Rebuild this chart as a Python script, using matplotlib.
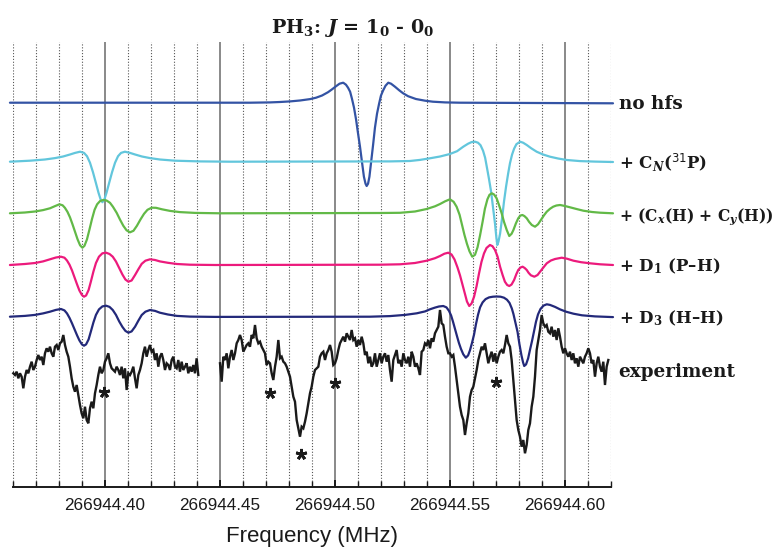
import numpy as np
import matplotlib
matplotlib.use("Agg")
import matplotlib.pyplot as plt
from matplotlib.ticker import MultipleLocator, FormatStrFormatter

plt.rcParams["mathtext.fontset"] = "custom"
plt.rcParams["mathtext.rm"] = "DejaVu Serif:bold"
plt.rcParams["mathtext.it"] = "DejaVu Serif:italic:bold"
plt.rcParams["mathtext.bf"] = "DejaVu Serif:bold"
plt.rcParams["mathtext.sf"] = "DejaVu Sans"

# Frequency axis (MHz); trace frequencies are offsets in kHz from REF_MHZ
REF_MHZ = 266944.40
F_MIN, F_MAX = 266944.36, 266944.62

# Simulated spectra (intensity in arbitrary units, relative to each trace's baseline)
nohfs_khz = [-41.2, 63.2, 71.9, 76.2, 80.6, 84.9, 89.3, 91.9, 94.5, 97.1, 98.8, 100.6,
             102.1, 103.7, 104.9, 105.8, 106.7, 107.5, 108.4, 109.3, 110.1, 111.0, 111.9,
             112.7, 113.4, 113.9, 114.5, 115.1, 115.8, 116.7, 117.5, 118.4, 119.3, 120.1,
             121.0, 122.1, 123.3, 124.5, 126.2, 128.0, 129.7, 131.9, 135.3, 139.3, 142.7,
             148.0, 154.5, 221.0]
nohfs_int = [0, 0, 0.3, 0.7, 1.3, 2.2, 3.6, 5.0, 7.2, 10.5, 13.3, 16.5,
             19.0, 20.0, 18.0, 15.0, 11.0, 4.0, -5.0, -17.0, -30.0, -44.0, -60.0,
             -74.0, -81.0, -83.3, -81.0, -74.0, -60.0, -42.0, -25.0, -11.0, -1.0, 7.0,
             12.0, 17.0, 20.0, 19.0, 16.0, 12.5, 9.5, 6.5, 3.7, 2.0, 1.0,
             0.3, 0, -0.6]

cn_khz = [-41.2, -32.5, -26.0, -21.6, -18.1, -15.1, -12.9, -10.7, -9.0, -7.7, -6.4, -5.1,
          -3.8, -2.7, -1.8, -1.0, -0.1, 0.8, 1.9, 3.2, 4.5, 5.8, 7.1, 8.8, 11.0, 13.2,
          16.2, 19.7, 24.0, 30.6, 41.4, 54.5,
          124.0, 132.7, 137.1, 141.4, 145.8, 150.1, 153.2, 155.9, 158.0, 159.5, 161.0,
          162.3, 163.4, 164.5, 165.4, 166.2, 167.1, 168.0, 168.8, 169.7, 170.3, 170.7,
          171.2, 171.9, 172.8, 173.6, 174.5, 175.4, 176.2, 177.1, 178.0, 179.0, 180.6,
          181.9, 183.5, 185.4, 187.8, 190.6, 193.6, 197.1, 200.9, 206.7, 213.2, 221.0]
cn_int = [0, 1, 2.2, 3.6, 5.2, 7.2, 8.8, 10, 8.8, 5.5, -1, -10.5,
          -21.5, -31, -37.5, -40.5, -37.5, -31, -21.5, -10.5, -1, 5.5, 8.8, 10, 8.8, 7.2,
          5.2, 3.6, 2.2, 1, 0.3, 0,
          0.3, 0.7, 1.8, 3.4, 5.2, 7.7, 10.5, 15, 18, 19.6, 20,
          19, 16.5, 11, 4, -6, -17.5, -30, -45, -62, -76, -83.3,
          -80, -72, -56, -40, -25, -12, -1.6, 7, 13, 17.5, 20,
          19, 16.7, 13.5, 10, 7.2, 5, 3.2, 1.7, 0.6, 0.1, -0.3]

cxy_khz = [-41.2, -34.7, -30.3, -26.8, -23.8, -21.6, -19.7, -18.3, -17.3, -16.2, -15.1,
           -14.0, -12.9, -11.8, -10.7, -9.7, -8.8, -7.7, -6.6, -5.5, -4.4, -3.3, -2.0,
           -0.6, 0.8, 2.3, 3.6, 5.2, 6.7, 8.1, 9.5, 11.0, 12.5, 14.0, 15.6, 17.1, 18.6,
           20.4, 22.3, 24.9, 28.4, 32.7, 39.3, 50.1,
           119.7, 128.4, 134.9, 140.0, 143.6, 145.8, 148.0, 150.1, 151.7, 153.0, 154.3,
           155.3, 156.4, 157.5, 158.6, 159.8, 161.0, 162.1, 163.2, 164.3, 165.3, 166.4,
           167.3, 168.3, 169.3, 170.4, 171.4, 172.6, 173.6, 174.8, 175.9, 176.9, 177.7,
           178.8, 179.8, 180.7, 181.6, 182.5, 183.5, 184.5, 185.7, 187.1, 188.4, 189.7,
           191.0, 192.2, 193.6, 195.0, 196.4, 198.0, 200.1, 202.3, 205.3, 208.1, 211.9,
           215.4, 221.0]
cxy_int = [0, 0.8, 1.8, 3.2, 5, 7.2, 9, 8, 5.5, 1.5, -4,
           -11, -18.5, -26, -32, -34.4, -32.5, -26, -16, -5.5, 3.5, 9, 12.3,
           13.3, 12.8, 10.5, 6.5, 0.5, -6.5, -12.5, -17, -19, -17.5, -12.5, -6, -0.5, 3.5,
           5.6, 5.5, 4, 2.4, 1.2, 0.4, 0,
           0.3, 0.5, 1.8, 4.3, 7, 9.3, 12, 14, 11.5, 6.6, -1.5,
           -11, -21.5, -30.5, -38, -43.4, -41.5, -34, -22, -8.5, 4.5, 14,
           18.5, 20, 18.8, 15, 8.5, 0, -8.5, -16.7, -22.7, -20.5, -16.7,
           -10, -5, -2.3, -1.7, -2.8, -5, -8.5, -11.7, -13.4, -11, -6.5,
           -2, 1.6, 4.5, 6.6, 7.8, 8.3, 7.3, 6, 4.2, 2.6, 1.3,
           0.6, 0]

d1_khz = [-41.2, -34.7, -30.3, -26.8, -23.8, -21.2, -19.0, -17.5, -16.4, -15.3, -14.2,
          -13.1, -12.0, -11.0, -9.9, -9.0, -8.1, -7.0, -6.0, -4.9, -3.8, -2.5, -1.0, 0.6,
          2.1, 3.5, 4.9, 6.3, 7.7, 9.0, 10.3, 11.7, 13.2, 14.7, 16.1, 17.7, 19.7, 21.9,
          24.0, 27.5, 31.4, 37.1, 48.0,
          119.7, 128.4, 134.9, 140.0, 143.6, 145.8, 147.7, 149.4, 150.8, 152.1, 153.4,
          154.5, 155.6, 156.7, 157.5, 158.5, 159.5, 160.6, 161.7, 162.7, 163.8, 164.9,
          166.0, 167.5, 168.6, 169.7, 170.8, 171.9, 173.0, 174.0, 175.0, 175.9, 176.9,
          178.0, 179.0, 179.8, 180.8, 181.7, 182.6, 183.5, 184.3, 185.3, 186.8, 188.2,
          189.3, 190.8, 192.2, 194.0, 195.8, 198.7, 201.0, 203.8, 207.1, 211.0, 215.4,
          221.0]
d1_int = [0, 1, 2, 3.6, 5.7, 7.5, 8.3, 7.3, 4.5, 0.3, -5.5,
          -12.5, -19.5, -25.5, -30, -31.7, -30.5, -25, -16.5, -6.5, 2, 8.3, 11.7, 12.3,
          11, 8.3, 3.5, -3, -9.5, -14.5, -16.7, -15.5, -10, -4, 1.2, 4.3, 5.7, 5,
          3.6, 2.2, 1, 0.3, 0,
          0.3, 0.7, 2, 4.3, 6.8, 9, 11.3, 12.3, 10.5, 5.5, -2.5,
          -10.5, -20, -29.5, -36.5, -41, -38.5, -31.7, -21, -9, 3, 11.5,
          17, 20, 18.8, 15, 8.5, -1.7, -10, -16.7, -20, -21, -19.5,
          -15, -9, -5, -2.5, -1.7, -3, -5, -7.8, -10.3, -11.7, -10,
          -6.7, -2.3, 1.7, 4.5, 6, 7.3, 6.3, 4.3, 2.8, 1.7, 0.7,
          0]

d3_khz = [-41.2, -34.7, -30.3, -26.8, -23.8, -21.2, -19.0, -17.5, -16.4, -15.3, -14.2,
          -13.1, -12.0, -11.0, -9.9, -9.0, -8.1, -7.0, -6.0, -4.9, -3.8, -2.5, -1.0, 0.6,
          2.1, 3.5, 4.9, 6.3, 7.7, 9.0, 10.3, 11.7, 13.2, 14.7, 16.1, 17.7, 19.7, 21.9,
          24.0, 27.5, 31.4, 37.1, 48.0,
          115.3, 124.0, 130.6, 135.7, 139.3, 141.4, 143.6, 145.3, 147.2, 148.6, 149.7,
          150.6, 151.4, 152.3, 153.2, 154.0, 154.9, 155.9, 157.0, 158.0, 158.8, 159.7,
          160.6, 161.4, 162.3, 163.2, 164.3, 165.6, 167.1, 168.8, 170.4, 172.1, 173.6,
          174.9, 176.0, 177.0, 177.7, 178.6, 179.5, 180.3, 181.2, 181.9, 182.4, 183.2,
          184.1, 184.9, 185.8, 186.7, 187.5, 188.4, 189.5, 190.8, 192.2, 193.6, 195.8,
          198.0, 200.6, 203.8, 207.5, 213.2, 221.0]
d3_int = [0.2, 1, 2, 3.5, 5.2, 7, 7.9, 6.5, 3.5, -1, -6.5,
          -12.5, -18.5, -23.5, -27.5, -28.8, -27.5, -22.5, -14.5, -5.5, 2, 7.5, 10.5, 11.2,
          10, 6.9, 2, -4.5, -10, -14, -15.8, -14.5, -9.8, -3.5, 1.9, 5.2, 6.9, 6,
          4.2, 2.4, 1, 0.3, 0,
          0.2, 0.8, 2, 3.6, 5.5, 7.6, 9.3, 10.4, 10.9, 9.5, 6,
          1.5, -4.5, -12, -19.5, -26, -32, -37.4, -40.8, -38.5, -33.5, -26,
          -17.5, -7.5, 2, 9.5, 14.5, 17.8, 19.5, 20.2, 20.4, 20.2, 19.2,
          17.2, 14, 8.5, 3, -6, -15, -27, -38.5, -45.5, -49.1, -47.5,
          -41.5, -33, -24, -14, -5, 2.5, 8, 11.3, 12.6, 12, 10,
          7.5, 5.2, 3.2, 1.6, 0.5, -0.2]

# Measured spectrum: two scans, uniformly sampled (start offset in kHz, step in kHz)
EXP_STEP_KHZ = 0.7246
exp1_start_khz = -39.73
exp1_int = [-3.3, -5, -1.7, -8.3, -3.3, -6.7, -18.3, -6.7, 0, -3.3, 3.3, 8.3, 0, 3.3,
            10, 15, 10, 13.3, 5, 16.7, 21.7, 18.3, 23.3, 16.7, 13.3, 23.3, 25, 20, 26.7,
            28.3, 35, 25, 18.3, 13.3, 3.3, -8.3, -16.7, -21.7, -15, -25, -35, -43.3, -48.3,
            -36.7, -50, -53.3, -38.3, -31.7, -38.3, -23.3, -15, -5, 3.3, -3.3, 0, 8.3,
            11.7, 16.7, 6.7, 1.7, 0, -1.7, 3.3, 0, -5, 3.3, -8.3, 1.7, -20, -3.3, -5, -1.7,
            3.3, -8.3, -18.3, -5, 0, 6.7, 16.7, 23.3, 13.3, 20, 25, 18.3, 20, 10, 16.7,
            3.3, 13.3, 16.7, 10, 0, 6.7, 5, 0, 10, 13.3, 3.3, 1.7, 10, -1.7, 8.3, 0, 3.3,
            6.7, -3.3, 3.3, -1.7, 5, -3.3, 11.7, -5]
exp2_start_khz = 50.13
exp2_int = [6.7, -11.7, 13.3, 10, 16.7, 1.7, 13.3, 20, 10, 16.7, 26.7, 30, 35, 30, 18.3,
            21.7, 25, 26.7, 23.3, 35, 31.7, 45, 31.7, 26.7, 28.3, 23.3, 20, 16.7, 5, 8.3,
            6.7, -3.3, -10, 3.3, 13.3, 30, 11.7, 13.3, 8.3, 6.7, 3.3, -1.7, -6.7, -16.7,
            -26.7, -31.7, -50, -58.3, -66.7, -56.7, -58.3, -51.7, -43.3, -33.3, -23.3,
            -16.7, -6.7, 0, 1.7, 3.3, 13.3, 16.7, 18.3, 10, 16.7, 20, 25, 18.3, 5, 6.7,
            11.7, 20, 26.7, 30, 33.3, 28.3, 36.7, 33.3, 30, 40, 30, 31.7, 23.3, 30, 25,
            33.3, 26.7, 15, 18.3, 6.7, 13.3, 3.3, 6.7, 16.7, 3.3, 10, 16.7, 6.7, 13.3,
            16.7, 8.3, 15, 0, -11.7, 10, 15, 20, 6.7, 10, 3.3, 16.7, 10, 6.7, 13.3, 3.3,
            18.3, 13.3, 3.3, 6.7, 1.7, -5, 18.3, 20, 26.7, 25, 30, 21.7, 31.7, 28.3, 36.7,
            40, 43.3, 60, 46.7, 45, 33.3, 23.3, 16.7, 16.7, 13.3, 15, 3.3, -10, -23.3,
            -36.7, -45, -50, -65, -53.3, -43.3, -26.7, -20, -16.7, -8.3, 0, 10, 16.7, 23.3,
            20, 26.7, 16.7, 6.7, 13.3, 18.3, 8.3, 16.7, 6.7, 13.3, 18.3, 20, 16.7, 25, 35,
            26.7, 23.3, 10, -10, -30, -50, -60, -66.7, -76.7, -70, -83.3, -75, -60, -53.3,
            -36.7, -26.7, -6.7, 20, 30, 40, 55, 46.7, 43.3, 45, 38.3, 36.7, 43.3, 33.3, 40,
            30, 41.7, 33.3, 23.3, 16.7, 21.7, 16.7, 13.3, 18.3, 10, 16.7, 6.7, 11.7, 3.3,
            13.3, 10, 6.7, 13.3, 16.7, 21.7, 16.7, 6.7, 10, -6.7, 6.7, 13.3, 3.3, -1.7,
            8.3, -15, 3.3, 10]

# Marked lines in the measured spectrum (kHz offset, intensity)
star_khz = [-0.2, 71.9, 85.3, 100.1, 170.1]
star_int = [-21.7, -23.3, -84.0, -13.3, -11.7]

# Vertical baseline of each trace, top to bottom
offsets = [384.6, 325.6, 274.0, 222.3, 170.4, 117.3]
labels = ["no hfs",
          r"+ C$_{N}$($^{\mathsf{31}}$P)",
          r"+ (C$_{x}$(H) + C$_{y}$(H))",
          r"+ D$_{\mathit{1}}$ (P–H)",
          r"+ D$_{\mathit{3}}$ (H–H)",
          "experiment"]
label_sizes = [13.2, 12, 11.2, 12, 12, 13.2]
colors = ["#3353a4", "#62c6dc", "#62b947", "#ec1a7c", "#23297a", "#1a1a1a"]

W, H = 779, 548
fig = plt.figure(figsize=(W / 100, H / 100), dpi=100)
ax = fig.add_axes([12.7 / W, (H - 487.3) / H, 598 / W, 445.3 / H])
ax.set_xlim(F_MIN, F_MAX)
ax.set_ylim(0, 445.3)


def to_mhz(khz):
    return REF_MHZ + np.asarray(khz, dtype=float) / 1000.0


sim = [(nohfs_khz, nohfs_int), (cn_khz, cn_int), (cxy_khz, cxy_int),
       (d1_khz, d1_int), (d3_khz, d3_int)]
for (k, v), off, col in zip(sim, offsets[:5], colors[:5]):
    ax.plot(to_mhz(k), off + np.asarray(v), color=col, lw=1.6,
            solid_joinstyle="round", solid_capstyle="round", clip_on=False, zorder=3)

for start, vals in [(exp1_start_khz, exp1_int), (exp2_start_khz, exp2_int)]:
    k = start + EXP_STEP_KHZ * np.arange(len(vals))
    ax.plot(to_mhz(k), offsets[5] + np.asarray(vals), color=colors[5], lw=1.7,
            solid_joinstyle="miter", clip_on=False, zorder=3)

ax.plot(to_mhz(star_khz), offsets[5] + np.asarray(star_int), linestyle="none",
        marker=(5, 2, 0), markersize=8, mew=2.0, color="#1a1a1a", zorder=4)

# Trace labels at the right end
for lab, off, fs in zip(labels, offsets, label_sizes):
    ax.annotate(lab, xy=(1.0, off), xycoords=ax.get_yaxis_transform(),
                xytext=(8, -6.5), textcoords="offset pixels", va="baseline", ha="left",
                fontsize=fs, fontweight="bold", family="DejaVu Serif", color="#1a1a1a",
                annotation_clip=False)

# Axes styling
for s in ["top", "left", "right"]:
    ax.spines[s].set_visible(False)
ax.spines["bottom"].set_linewidth(1.4)
ax.spines["bottom"].set_color("#1a1a1a")
ax.yaxis.set_visible(False)
ax.xaxis.set_major_locator(MultipleLocator(0.05))
ax.xaxis.set_minor_locator(MultipleLocator(0.01))
ax.xaxis.set_major_formatter(FormatStrFormatter("%.2f"))
ax.tick_params(axis="x", which="major", direction="in", length=5, width=1.4,
               pad=7.5, labelsize=12.3, colors="#1a1a1a")
ax.tick_params(axis="x", which="minor", direction="in", length=4.5, width=1.0,
               colors="#1a1a1a")
for t in ax.get_xticklabels():
    t.set_family("Liberation Sans")
ax.grid(True, axis="x", which="major", color="#6a6a6a", lw=1.1, ls="-", zorder=1)
ax.grid(True, axis="x", which="minor", color="#555555", lw=0.8, ls=(0, (1, 1.6)), zorder=1)
ax.set_axisbelow(True)

fig.text(311.7 / W, 1 - 541.7 / H, "Frequency (MHz)", ha="center", va="baseline",
         fontsize=16, family="Liberation Sans", color="#1a1a1a")
fig.text(353 / W, 1 - 33 / H, r"PH$_{3}$: $J$ = 1$_{0}$ - 0$_{0}$", ha="center",
         va="baseline", fontsize=13.8, fontweight="bold", family="DejaVu Serif",
         color="#1a1a1a")

fig.savefig("out.png", dpi=100)
